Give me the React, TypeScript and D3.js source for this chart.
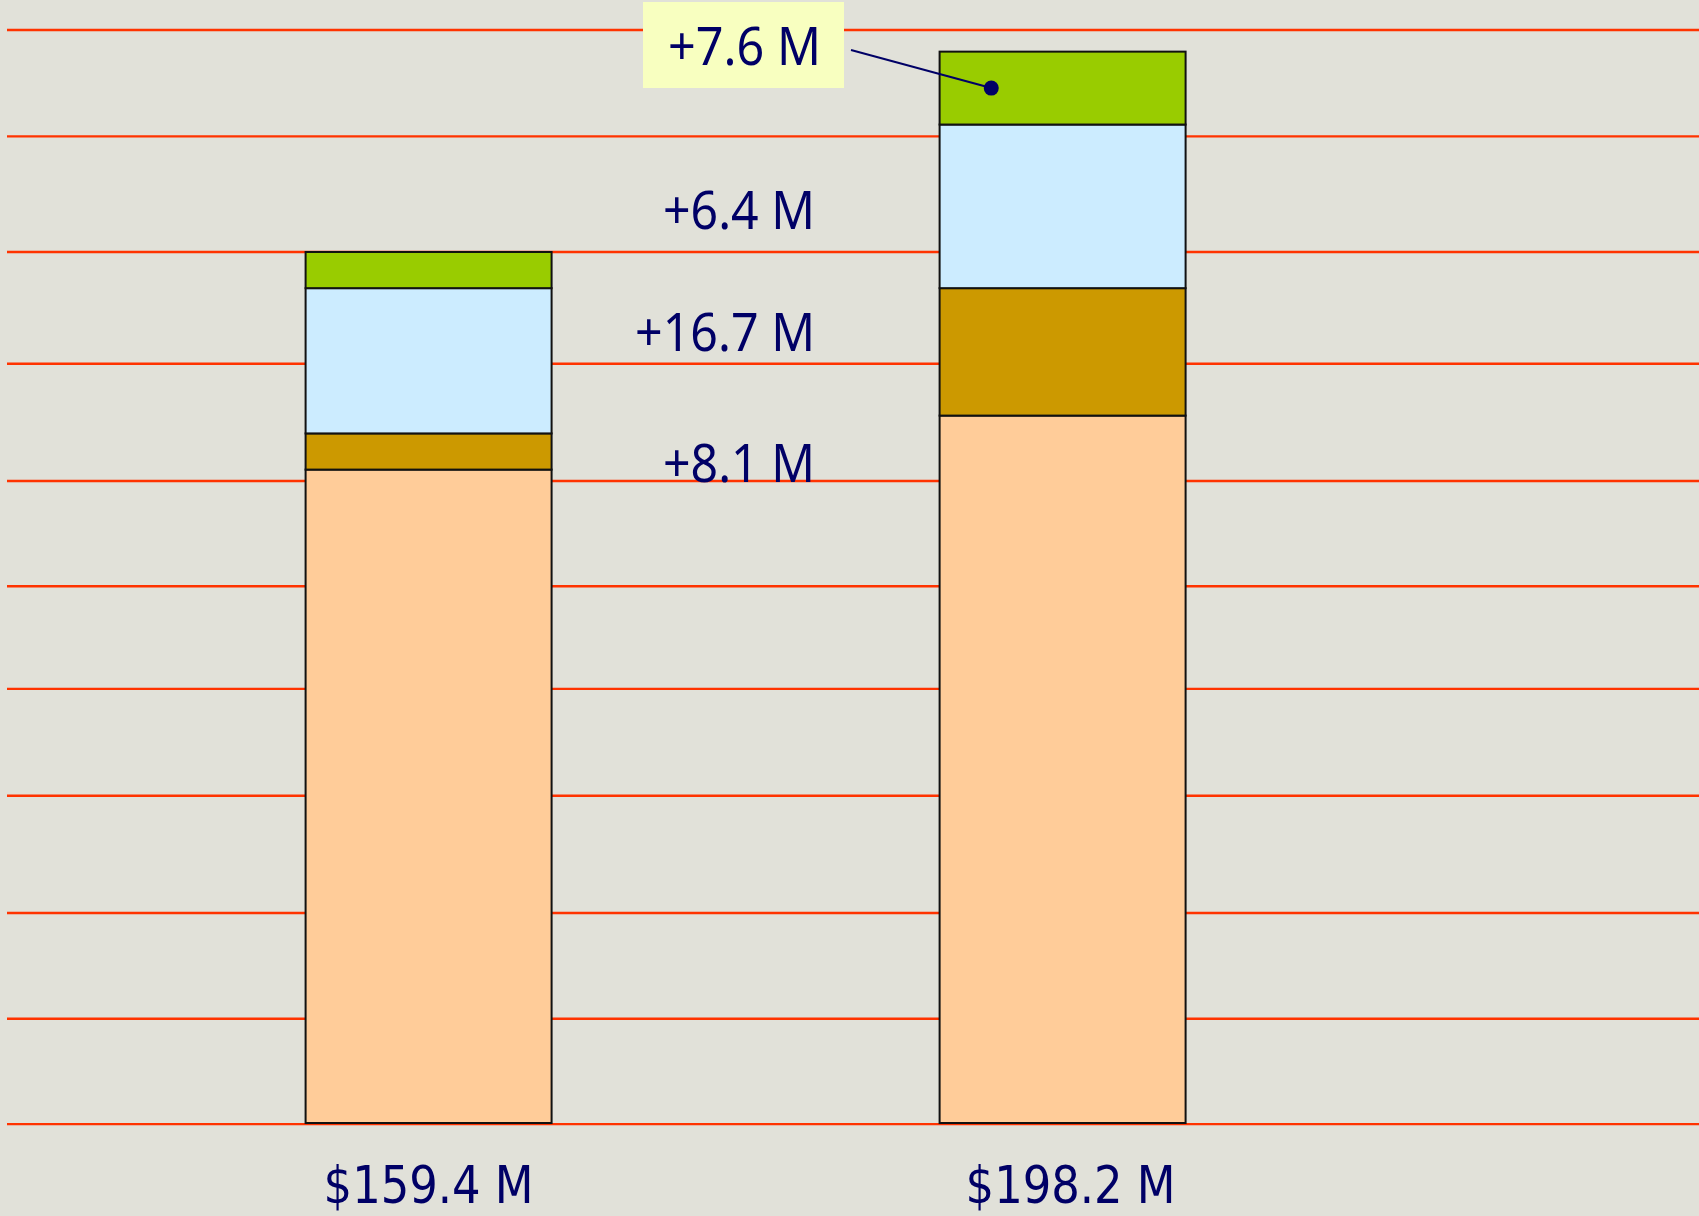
import React from "react";
import * as d3 from "d3";

const categories = ["$159.4 M", "$198.2 M"];
const segmentNames = ["base", "gold", "blue", "green"];
const baseValues = [121.0, 131.0];
const goldValues = [6.7, 23.6];
const blueValues = [26.9, 30.3];
const greenValues = [6.7, 13.5];
const segmentColors = ["#FFCC99", "#CC9900", "#CCECFF", "#99CC00"];
const gridValues = [202.4, 182.7, 161.3, 140.6, 118.9, 99.4, 80.4, 60.6, 38.9, 19.3, -0.2];
const deltaLabels = ["+7.6 M", "+6.4 M", "+16.7 M", "+8.1 M"];

const W = 1699;
const H = 1216;
const NAVY = "#000066";

export default function App() {
  const x = d3.scaleBand<string>().domain(categories).range([305.6, 1185.6]).paddingInner(0.612).paddingOuter(0);
  const y = d3.scaleLinear().domain([0, 200]).range([1123, 43]);
  const bw = x.bandwidth();

  const table = categories.map((c, i) => ({
    cat: c,
    base: baseValues[i],
    gold: goldValues[i],
    blue: blueValues[i],
    green: greenValues[i],
  }));
  const stacked = d3.stack<any>().keys(segmentNames)(table);

  const b2 = categories[1];
  const greenLayer = stacked[3][1];
  const dotX = (x(b2) as number) + bw * 0.21;
  const dotY = (y(greenLayer[0]) + y(greenLayer[1])) / 2;

  const labelFont = "'Noto Sans', 'Open Sans', sans-serif";
  const sideLabels = [
    { t: deltaLabels[1], yb: 228.5, len: 152 },
    { t: deltaLabels[2], yb: 350.7, len: 180 },
    { t: deltaLabels[3], yb: 481.5, len: 152 },
  ];

  return (
    <svg width={W} height={H} style={{ position: "absolute", left: 0, top: 0, display: "block" }}>
      <rect x={0} y={0} width={W} height={H} fill="#E1E1D9" />
      {gridValues.map((v, i) => (
        <line key={i} x1={7} x2={W} y1={y(v)} y2={y(v)} stroke="#FF3300" strokeWidth={2.4} />
      ))}
      {stacked.map((layer, li) =>
        layer.map((d, i) => (
          <rect
            key={li + "-" + i}
            x={x(categories[i]) as number}
            y={y(d[1])}
            width={bw}
            height={y(d[0]) - y(d[1])}
            fill={segmentColors[li]}
            stroke="#111"
            strokeWidth={2}
          />
        ))
      )}
      {/* callout */}
      <rect x={643} y={2} width={201} height={86} fill="#F8FFC0" />
      <text x={744.5} y={65} textAnchor="middle" fontFamily={labelFont} fontSize={52} fill={NAVY} textLength={153} lengthAdjust="spacingAndGlyphs">
        {deltaLabels[0]}
      </text>
      <line x1={851} y1={50} x2={dotX} y2={dotY} stroke={NAVY} strokeWidth={2} />
      <circle cx={dotX} cy={dotY} r={7.5} fill={NAVY} />
      {sideLabels.map((l, i) => (
        <text key={i} x={815} y={l.yb} textAnchor="end" fontFamily={labelFont} fontSize={52} fill={NAVY} textLength={l.len} lengthAdjust="spacingAndGlyphs">
          {l.t}
        </text>
      ))}
      {categories.map((c, i) => (
        <text
          key={c}
          x={(x(c) as number) + bw / 2 + (i === 1 ? 8 : 0)}
          y={1203}
          textAnchor="middle"
          fontFamily="'Liberation Sans Narrow', 'DejaVu Sans Condensed', 'Roboto', sans-serif"
          fontSize={51}
          fill={NAVY}
          textLength={210}
          lengthAdjust="spacingAndGlyphs"
        >
          {c}
        </text>
      ))}
    </svg>
  );
}
